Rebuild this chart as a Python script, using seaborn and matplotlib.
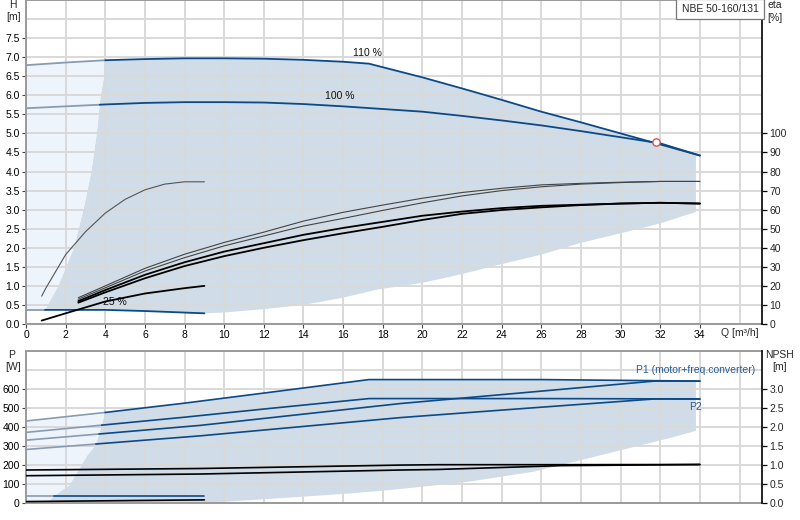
import numpy as np
import matplotlib
matplotlib.use("Agg")
import matplotlib.pyplot as plt
import seaborn as sns

# ---------------- data ----------------
# Head curves, H [m] versus Q [m3/h]
q_h110 = [0, 2, 4, 6, 8, 10, 12, 14, 16, 17.3, 20, 22, 24, 26, 28, 30, 32, 34]
h_h110 = [6.79, 6.86, 6.92, 6.95, 6.97, 6.97, 6.96, 6.93, 6.88, 6.83, 6.47, 6.18, 5.88, 5.57, 5.29, 5.00, 4.71, 4.42]
q_h100 = [0, 2, 4, 6, 8, 10, 12, 14, 16, 18, 20, 22, 24, 26, 28, 30, 32, 34]
h_h100 = [5.66, 5.71, 5.76, 5.80, 5.82, 5.82, 5.81, 5.77, 5.71, 5.64, 5.57, 5.46, 5.34, 5.21, 5.06, 4.90, 4.74, 4.42]
q_h25 = [0, 2, 4, 6, 9]
h_h25 = [0.37, 0.37, 0.37, 0.34, 0.28]

# duty point
q_op = [31.8]
h_op = [4.78]

# operating area (head diagram)
q_area_left = [0.96, 1.63, 2.42, 2.9, 3.3, 3.57, 3.77, 3.94, 4.0]
h_area_left = [0.37, 1.0, 2.0, 3.0, 4.0, 5.0, 6.0, 6.5, 6.92]
q_area_low = [0.96, 2, 4, 6, 9, 10, 12, 14, 16, 17.7, 20, 22, 24, 26, 28, 30, 32, 33.8]
h_area_low = [0.37, 0.37, 0.37, 0.34, 0.28, 0.30, 0.39, 0.50, 0.69, 0.90, 1.08, 1.31, 1.57, 1.82, 2.13, 2.38, 2.64, 2.94]
q_area_max = 33.8

# efficiency curves, eta [%]
q_eta_low = [0.79, 1, 2, 3, 4, 5, 6, 7, 8, 9]
eta_low = [14.6, 18.8, 36.4, 48.4, 58.2, 65.4, 70.4, 73.4, 74.6, 74.6]
q_eta25 = [0.79, 2, 4, 6, 8, 9]
eta_25 = [1.8, 5.6, 11.8, 16.0, 18.8, 20.0]
q_eta = [2.64, 4, 6, 8, 10, 12, 14, 16, 18, 20, 22, 24, 26, 28, 30, 32, 34]
eta_a = [13.8, 20.0, 29.2, 36.6, 42.8, 48.2, 54.0, 58.6, 62.4, 66.0, 69.0, 71.2, 73.0, 73.8, 74.4, 74.8, 74.8]
eta_b = [13.0, 19.0, 27.8, 34.8, 41.0, 46.2, 51.4, 55.4, 59.6, 63.6, 67.2, 70.0, 72.0, 73.4, 74.2, 74.8, 74.8]
eta_c = [12.0, 17.8, 25.8, 32.4, 38.0, 42.4, 46.8, 50.4, 53.6, 56.8, 59.0, 60.8, 62.0, 62.6, 63.2, 63.6, 63.2]
eta_d = [11.2, 16.6, 24.0, 30.4, 35.6, 40.0, 44.0, 47.6, 51.0, 54.6, 57.8, 59.8, 61.2, 62.4, 63.2, 63.6, 63.2]

# power curves, P [W]
q_p110 = [0, 4, 8, 12, 17.3, 26, 34]
p1_110 = [430, 475, 524, 577, 648, 648, 640]
p2_110 = [370, 410, 450, 493, 548, 548, 546]
q_p100 = [0, 8.8, 18.9, 25, 31.7, 34]
p1_100 = [329, 407, 522, 578, 640, 640]
p2_100 = [280, 352, 448, 495, 546, 546]
q_p25 = [0, 9]
p1_25 = [34, 34]
p2_25 = [6, 15]

# NPSH curves [m]
q_npsh = [0, 8.8, 18.9, 20.8, 27, 34]
npsh_110 = [0.86, 0.90, 0.99, 1.00, 1.00, 1.005]
npsh_100 = [0.71, 0.755, 0.86, 0.875, 0.975, 1.005]

# operating area (power diagram)
q_parea_left = [1.1, 1.4, 2.2, 2.8, 3.1, 3.5, 3.8, 4.0]
p_parea_left = [0, 34, 93, 198, 250, 300, 400, 478]
q_parea_low = [1.1, 9, 10, 12, 14, 16, 18, 20, 22.3, 25.6, 29, 32.4, 33.8]
p_parea_low = [0, 2, 5, 18, 32, 46, 63, 84, 110, 163, 250, 338, 378]

x_ticks = list(range(0, 36, 2))
h_ticks = [i * 0.5 for i in range(16)]
eta_ticks = list(range(0, 101, 10))
p_ticks = list(range(0, 601, 100))
npsh_ticks = [i * 0.5 for i in range(7)]

# ---------------- style ----------------
sns.set_theme(style="white")
plt.rcParams["font.family"] = ["Liberation Sans", "DejaVu Sans"]
FS = 7.5
plt.rcParams["font.size"] = FS

DARK_FILL = "#d0dce7"
LIGHT_FILL = "#edf4fb"
BLUE = "#0b4a87"
BLUE_LIGHT = "#8a9bb0"
GRID = "#d9d9d9"
SPINE = "#9a9a9a"

W, H = 800, 520
fig = plt.figure(figsize=(W / 100, H / 100), dpi=100)
ax1 = fig.add_axes([26 / W, 1 - 324 / H, 736 / W, 324 / H])
ax2 = fig.add_axes([26 / W, 1 - 502.7 / H, 736 / W, 152 / H])
XMAX = 736 / 19.82


def line(ax, x, y, color, lw):
    sns.lineplot(x=np.asarray(x, float), y=np.asarray(y, float), ax=ax, color=color,
                 linewidth=lw, sort=False, estimator=None, legend=False, zorder=3)


def split_line(ax, x, y, bx, by, lw=1.3):
    """Draw curve grey-blue inside the light zone and dark blue inside the area."""
    x = np.asarray(x, float)
    y = np.asarray(y, float)
    qs = 3.0
    for _ in range(10):
        qs = np.interp(np.interp(qs, x, y), by, bx)
    ys = np.interp(qs, x, y)
    xl = np.r_[x[x < qs], qs]
    yl = np.r_[y[x < qs], ys]
    xr = np.r_[qs, x[x > qs]]
    yr = np.r_[ys, y[x > qs]]
    line(ax, xl, yl, BLUE_LIGHT, lw)
    line(ax, xr, yr, BLUE, lw)


def style_axes(ax):
    ax.set_xlim(0, XMAX)
    ax.set_axisbelow(True)
    ax.grid(True, which="both", color=GRID, linewidth=1.4)
    for s in ("left", "bottom", "top"):
        ax.spines[s].set_color(SPINE)
        ax.spines[s].set_linewidth(1.4)
    ax.spines["right"].set_visible(False)
    ax.tick_params(axis="both", which="major", length=3, width=0.8, color="#444444",
                   pad=1.5, labelsize=FS, labelcolor="black", left=True, bottom=True)
    ax.tick_params(which="minor", length=0)
    ax.set_xticks(x_ticks)
    ax.set_xticks([36], minor=True)


# ---------------- head diagram ----------------
style_axes(ax1)
ax1.set_ylim(0, 8.5)
ax1.set_yticks(h_ticks)
ax1.set_yticklabels([f"{v:.1f}" for v in h_ticks])
ax1.set_yticks([8.0], minor=True)
ax1.set_xticklabels([str(v) for v in x_ticks])

qa110 = np.asarray(q_h110, float)
ha110 = np.asarray(h_h110, float)
q_top0 = q_area_left[-1]
mask = (qa110 > q_top0) & (qa110 < q_area_max)
area_x = np.r_[q_area_left, qa110[mask], q_area_max, q_area_low[::-1]]
area_y = np.r_[h_area_left, ha110[mask], np.interp(q_area_max, qa110, ha110), h_area_low[::-1]]
ax1.fill(area_x, area_y, color=DARK_FILL, lw=0, zorder=0.2)

m0 = qa110 < q_top0
light_x = np.r_[qa110[m0], q_area_left[::-1], 0]
light_y = np.r_[ha110[m0], h_area_left[::-1], np.interp(0, q_h25, h_h25)]
ax1.fill(light_x, light_y, color=LIGHT_FILL, lw=0, zorder=0.2)

split_line(ax1, q_h110, h_h110, q_area_left, h_area_left)
split_line(ax1, q_h100, h_h100, q_area_left, h_area_left)
split_line(ax1, q_h25, h_h25, q_area_left, h_area_left)
ax1.scatter(q_op, h_op, s=28, facecolor="white", edgecolor="#e05050", linewidth=1.0, zorder=5)

ax1.text(17.25, 7.12, "110 %", ha="center", va="center", fontsize=FS, color="#111111")
ax1.text(15.85, 5.97, "100 %", ha="center", va="center", fontsize=FS, color="#111111")
ax1.text(4.5, 0.59, "25 %", ha="center", va="center", fontsize=FS, color="#111111", zorder=2)

# efficiency twin axis
ax1e = ax1.twinx()
ax1e.set_position(ax1.get_position())
ax1e.set_ylim(0, 170)
ax1e.set_yticks(eta_ticks)
ax1e.set_yticklabels([str(v) for v in eta_ticks])
for s in ("left", "bottom", "top"):
    ax1e.spines[s].set_visible(False)
ax1e.spines["right"].set_color("black")
ax1e.spines["right"].set_linewidth(1.2)
ax1e.tick_params(axis="y", length=3.5, width=0.9, color="black", pad=2, labelsize=FS, right=True)
ax1e.grid(False)

line(ax1e, q_eta_low, eta_low, "#555555", 0.8)
line(ax1e, q_eta25, eta_25, "black", 1.3)
line(ax1e, q_eta, eta_a, "#444444", 0.8)
line(ax1e, q_eta, eta_b, "#444444", 0.8)
line(ax1e, q_eta, eta_c, "black", 1.3)
line(ax1e, q_eta, eta_d, "black", 1.3)

# ---------------- power diagram ----------------
style_axes(ax2)
ax2.set_ylim(0, 800)
ax2.set_yticks(p_ticks)
ax2.set_yticklabels([str(v) for v in p_ticks])
ax2.set_yticks([700, 800], minor=True)
ax2.tick_params(axis="x", labelbottom=False, length=0)

qp = np.asarray(q_p110, float)
pp = np.asarray(p1_110, float)
q_ptop0 = q_parea_left[-1]
mk = (qp > q_ptop0) & (qp < q_area_max)
parea_x = np.r_[q_parea_left, qp[mk], q_area_max, q_parea_low[::-1]]
parea_y = np.r_[p_parea_left, pp[mk], np.interp(q_area_max, qp, pp), p_parea_low[::-1]]
ax2.fill(parea_x, parea_y, color=DARK_FILL, lw=0, zorder=0.2)
mk0 = qp < q_ptop0
plight_x = np.r_[qp[mk0], q_parea_left[::-1], 0]
plight_y = np.r_[pp[mk0], p_parea_left[::-1], 0]
ax2.fill(plight_x, plight_y, color=LIGHT_FILL, lw=0, zorder=0.2)

split_line(ax2, q_p110, p1_110, q_parea_left, p_parea_left, 1.2)
split_line(ax2, q_p110, p2_110, q_parea_left, p_parea_left, 1.2)
split_line(ax2, q_p100, p1_100, q_parea_left, p_parea_left, 1.2)
split_line(ax2, q_p100, p2_100, q_parea_left, p_parea_left, 1.2)
split_line(ax2, q_p25, p1_25, q_parea_left, p_parea_left, 1.2)
line(ax2, q_p25, p2_25, "black", 1.2)

ax2.text(33.8, 696, "P1 (motor+freq.converter)", ha="center", va="center", fontsize=FS, color="#2a5d95")
ax2.text(33.8, 506, "P2", ha="center", va="center", fontsize=FS, color="#2a5d95")

ax2n = ax2.twinx()
ax2n.set_position(ax2.get_position())
ax2n.set_ylim(0, 4.0)
ax2n.set_yticks(npsh_ticks)
ax2n.set_yticklabels([f"{v:.1f}" for v in npsh_ticks])
for s in ("left", "bottom", "top"):
    ax2n.spines[s].set_visible(False)
ax2n.spines["right"].set_color("black")
ax2n.spines["right"].set_linewidth(1.2)
ax2n.tick_params(axis="y", length=3.5, width=0.9, color="black", pad=2, labelsize=FS, right=True)
ax2n.grid(False)
line(ax2n, q_npsh, npsh_110, "black", 1.2)
line(ax2n, q_npsh, npsh_100, "black", 1.2)

# ---------------- axis captions ----------------
def ftext(px, py, s, **kw):
    fig.text(px / W, 1 - py / H, s, ha="center", va="center", fontsize=FS, **kw)

ftext(13, 5, "H")
ftext(14, 17, "[m]")
ftext(775, 5, "eta")
ftext(775, 18, "[%]")
ftext(740, 333, "Q [m³/h]")
ftext(12, 355, "P")
ftext(13, 367, "[W]")
ftext(779, 355, "NPSH")
ftext(780, 367, "[m]")
fig.text(720 / W, 1 - 9 / H, "NBE 50-160/131", ha="center", va="center", fontsize=FS,
         bbox=dict(boxstyle="square,pad=0.5", facecolor="white", edgecolor="#777777", linewidth=0.9))

fig.savefig("out.png", dpi=100)
